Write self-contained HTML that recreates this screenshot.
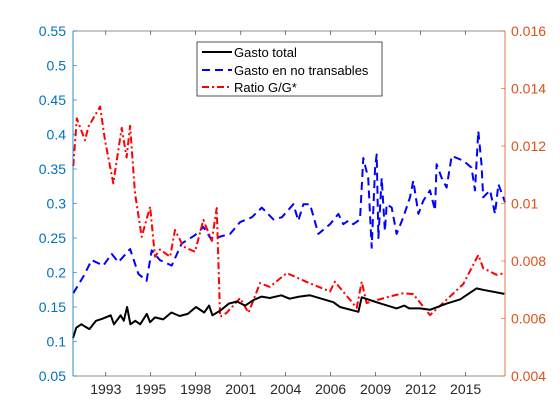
<!DOCTYPE html>
<html><head><meta charset="utf-8"><style>
body{margin:0;background:#fff;}
svg{display:block;font-family:"Liberation Sans",sans-serif;}
</style></head><body>
<svg id="chart" width="560" height="420"></svg>
<script>
const xTickLabels=["1993","1995","1998","2001","2004","2006","2009","2012","2015"];
const xTickYears=[1993,1995.74,1998.48,2001.23,2003.97,2006.71,2009.45,2012.2,2014.94];
const leftTicks=[0.05,0.1,0.15,0.2,0.25,0.3,0.35,0.4,0.45,0.5,0.55];
const leftTickLabels=["0.05","0.1","0.15","0.2","0.25","0.3","0.35","0.4","0.45","0.5","0.55"];
const rightTicks=[0.004,0.006,0.008,0.01,0.012,0.014,0.016];
const rightTickLabels=["0.004","0.006","0.008","0.01","0.012","0.014","0.016"];
const totalYears=[1991.0,1991.2,1991.5,1992.0,1992.4,1992.8,1993.3,1993.5,1993.9,1994.1,1994.3,1994.5,1994.8,1995.1,1995.5,1995.7,1996.0,1996.5,1997.0,1997.5,1998.0,1998.5,1999.0,1999.3,1999.5,2000.0,2000.5,2001.0,2001.5,2002.0,2002.5,2003.0,2003.7,2004.2,2004.8,2005.45,2006.87,2007.28,2008.4,2008.6,2009.5,2010.73,2011.2,2011.5,2012.16,2012.77,2013.78,2014.6,2015.6,2016.0,2017.3];
const totalVals=[0.105,0.12,0.125,0.118,0.13,0.133,0.138,0.125,0.138,0.13,0.15,0.125,0.13,0.125,0.14,0.128,0.135,0.132,0.142,0.137,0.14,0.15,0.142,0.152,0.138,0.145,0.155,0.158,0.152,0.16,0.165,0.163,0.167,0.162,0.165,0.167,0.157,0.15,0.143,0.164,0.157,0.148,0.152,0.148,0.148,0.146,0.155,0.161,0.177,0.175,0.169];
const noTransYears=[1991.02,1991.63,1992.14,1992.85,1993.36,1993.77,1994.48,1994.99,1995.49,1995.8,1996.3,1997.02,1997.63,1998.44,1998.95,1999.46,1999.97,2000.58,2001.19,2001.9,2002.51,2003.22,2003.73,2004.44,2004.74,2005.05,2005.45,2005.96,2006.67,2007.18,2007.48,2007.79,2008.09,2008.5,2008.7,2009.0,2009.21,2009.42,2009.52,2009.62,2009.82,2010.02,2010.13,2010.43,2010.73,2011.14,2011.55,2011.75,2012.06,2012.36,2012.77,2013.07,2013.17,2013.48,2013.78,2014.09,2014.8,2015.3,2015.51,2015.71,2015.91,2016.01,2016.43,2016.73,2016.94,2017.34];
const noTransVals=[0.170,0.194,0.218,0.21,0.227,0.215,0.234,0.198,0.188,0.232,0.218,0.21,0.242,0.254,0.266,0.247,0.252,0.256,0.273,0.28,0.294,0.277,0.28,0.299,0.275,0.299,0.299,0.256,0.27,0.285,0.27,0.275,0.27,0.277,0.366,0.337,0.236,0.352,0.371,0.25,0.337,0.26,0.299,0.294,0.256,0.28,0.309,0.333,0.285,0.304,0.319,0.29,0.357,0.337,0.323,0.369,0.362,0.352,0.319,0.405,0.357,0.309,0.319,0.285,0.328,0.302];
const ratioYears=[1991.02,1991.23,1991.73,1991.94,1992.65,1992.95,1993.46,1993.97,1994.27,1994.48,1994.78,1995.19,1995.7,1996.0,1996.3,1996.92,1997.22,1997.73,1998.44,1998.95,1999.46,1999.76,1999.97,2000.37,2001.19,2001.7,2002.4,2003.0,2004.03,2005.45,2006.67,2006.97,2008.3,2008.6,2008.9,2010.33,2011.14,2011.75,2012.77,2013.78,2014.8,2015.71,2016.01,2016.83,2017.34];
const ratioVals=[0.0113,0.01296,0.0122,0.01267,0.01337,0.0122,0.0107,0.01263,0.0116,0.0127,0.01036,0.00884,0.00989,0.00815,0.0084,0.00815,0.00908,0.0085,0.00832,0.00943,0.0087,0.00984,0.00606,0.0062,0.00671,0.0062,0.00723,0.0071,0.00758,0.00722,0.00694,0.00728,0.00637,0.00728,0.00654,0.00677,0.00688,0.00685,0.00612,0.00665,0.0072,0.00821,0.00775,0.00752,0.00758];

const L=73,R=505,T=31,B=376;
const x=y=>L+(y-1991)/(2017.34-1991)*(R-L);
const yl=v=>B-(v-0.05)/0.5*(B-T);
const yr=v=>B-(v-0.004)/0.012*(B-T);
const svg=document.getElementById('chart');
const NS='http://www.w3.org/2000/svg';
function mk(tag,attrs,parent){const e=document.createElementNS(NS,tag);for(const k in attrs)e.setAttribute(k,attrs[k]);(parent||svg).appendChild(e);return e;}
const BLUE='#0072BD',ORANGE='#D95319';
function line(xs,vs,fn,color,dash,name){
  const p=xs.map((t,i)=>(i?'L':'M')+x(t).toFixed(1)+' '+fn(vs[i]).toFixed(1)).join(' ');
  const e=mk('path',{d:p,fill:'none',stroke:color,'stroke-width':2,'stroke-dasharray':dash,'stroke-linejoin':'round'});
  
  
}
line(noTransYears,noTransVals,yl,'#0000FF','8 5','series-gasto-no-transables');
line(ratioYears,ratioVals,yr,'#FF0000','7 3 2 3','series-ratio');
line(totalYears,totalVals,yl,'#000','','series-gasto-total');
const ax=mk('g',{});


mk('line',{x1:L,y1:T,x2:R,y2:T,stroke:'#262626','stroke-width':0.6},ax);
mk('line',{x1:L,y1:B,x2:R,y2:B,stroke:'#262626','stroke-width':0.6},ax);
mk('line',{x1:L,y1:T,x2:L,y2:B,stroke:BLUE,'stroke-width':0.8},ax);
mk('line',{x1:R,y1:T,x2:R,y2:B,stroke:ORANGE,'stroke-width':0.8},ax);
xTickYears.forEach((t,i)=>{
  const px=x(t);
  mk('line',{x1:px,y1:B,x2:px,y2:B-4,stroke:'#262626','stroke-width':0.6},ax);
  mk('line',{x1:px,y1:T,x2:px,y2:T+4,stroke:'#262626','stroke-width':0.6},ax);
  const tx=mk('text',{x:px,y:B+18,'font-size':14,fill:'#262626','text-anchor':'middle'},ax);
  tx.textContent=xTickLabels[i];
  
  
});
leftTicks.forEach((v,i)=>{
  const py=yl(v);
  mk('line',{x1:L,y1:py,x2:L+4,y2:py,stroke:BLUE,'stroke-width':0.6},ax);
  const tx=mk('text',{x:L-7,y:py+5,'font-size':14,fill:BLUE,'text-anchor':'end'},ax);
  tx.textContent=leftTickLabels[i];
  
  
});
rightTicks.forEach((v,i)=>{
  const py=yr(v);
  mk('line',{x1:R,y1:py,x2:R-4,y2:py,stroke:ORANGE,'stroke-width':0.6},ax);
  const tx=mk('text',{x:R+6,y:py+5,'font-size':14,fill:ORANGE,'text-anchor':'start'},ax);
  tx.textContent=rightTickLabels[i];
  
  
});
</script>
<svg style="position:absolute;left:0;top:0" width="560" height="420">
<rect x="197" y="42" width="185" height="54" fill="#fff" stroke="#262626" stroke-width="0.8"/>
<line x1="202" y1="52" x2="232" y2="52" stroke="#000" stroke-width="2"/>
<line x1="202" y1="70" x2="232" y2="70" stroke="#0000FF" stroke-width="2" stroke-dasharray="8 5"/>
<line x1="202" y1="87" x2="232" y2="87" stroke="#FF0000" stroke-width="2" stroke-dasharray="7 3 2 3"/>
<text x="234" y="57" font-size="13" fill="#000">Gasto total</text>
<text x="234" y="75" font-size="13" fill="#000">Gasto en no transables</text>
<text x="234" y="92" font-size="13" fill="#000">Ratio G/G*</text>
</svg>
</body></html>
